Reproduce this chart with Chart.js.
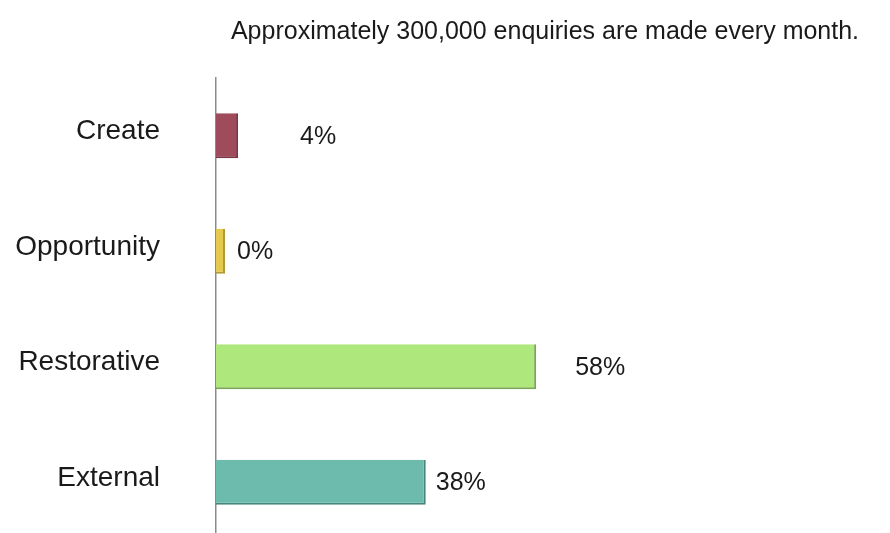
<!DOCTYPE html>
<html>
<head>
<meta charset="utf-8">
<script src="https://cdn.jsdelivr.net/npm/chart.js@4.4.1/dist/chart.umd.min.js"></script>
<style>
  html, body { margin: 0; padding: 0; background: #fff; overflow: hidden; }
  canvas { display: block; }
</style>
</head>
<body>
<canvas id="enquiryChart" width="890" height="540"></canvas>
<script>
// enquiry share by type
const categories = ['Create', 'Opportunity', 'Restorative', 'External'];
const shares = [4, 0, 58, 38];
const headline = 'Approximately 300,000 enquiries are made every month.';

const fills = ['#a04b5b', '#e4c94c', '#aee77c', '#6cbbac'];
const edges = ['#7b3443', '#b29a34', '#7aa552', '#45877a'];
const labelGap = [62, 12, 39, 10];

const FONT = '"Liberation Sans", Arial, sans-serif';

// headline + % labels beside each bar
const annotate = {
  id: 'annotate',
  afterDraw(chart) {
    const c = chart.ctx;
    c.save();
    c.fillStyle = '#1a1a1a';
    c.font = '25px ' + FONT;
    c.textAlign = 'center';
    c.textBaseline = 'middle';
    c.fillText(headline, 545, 32);

    c.textAlign = 'left';
    const meta = chart.getDatasetMeta(0);
    meta.data.forEach((bar, i) => {
      c.fillText(shares[i] + '%', bar.x + labelGap[i], bar.y + 1);
    });
    c.restore();
  }
};

new Chart(document.getElementById('enquiryChart'), {
  type: 'bar',
  data: {
    labels: categories,
    datasets: [{
      data: shares,
      backgroundColor: fills,
      borderColor: edges,
      borderWidth: { top: 0, right: 2, bottom: 2, left: 0 },
      borderSkipped: false,
      minBarLength: 9,
      categoryPercentage: 1,
      barPercentage: 0.39
    }]
  },
  options: {
    indexAxis: 'y',
    responsive: false,
    animation: false,
    layout: { padding: { top: 78, right: 122, bottom: 0, left: 0 } },
    plugins: {
      legend: { display: false },
      tooltip: { enabled: false },
      title: { display: false }
    },
    scales: {
      x: {
        display: false,
        min: 0,
        max: 100
      },
      y: {
        afterFit(scale) {
          scale.width = 216;
          scale.paddingTop = 0;
          scale.paddingBottom = 0;
        },
        // tick marks hidden, their length just pushes the labels left
        grid: { display: false, drawTicks: true, tickLength: 56 },
        border: { display: true, color: '#8c8c8c', width: 1.5 },
        ticks: {
          color: '#1a1a1a',
          padding: 0,
          labelOffset: -4,
          font: { family: FONT, size: 28 }
        }
      }
    }
  },
  plugins: [annotate]
});
</script>
</body>
</html>
